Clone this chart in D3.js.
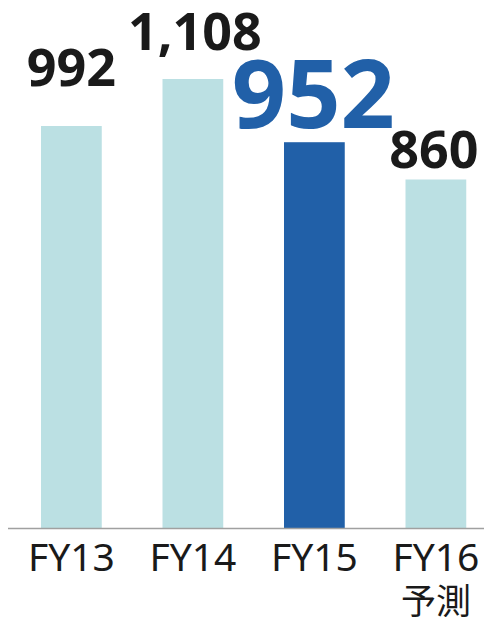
<!DOCTYPE html>
<html>
<head>
<meta charset="utf-8">
<script src="https://cdn.jsdelivr.net/npm/d3@7"></script>
<style>
  html, body { margin: 0; padding: 0; background: #fff; }
  svg { display: block; }
</style>
</head>
<body>
<svg width="484" height="617"></svg>
<script>
(function() {
    'use strict';

// data
var categories = ["FY13", "FY14", "FY15", "FY16"];
var subLabels  = ["", "", "", "予測"];
var values     = [992, 1108, 952, 860];
var valueText  = ["992", "1,108", "952", "860"];
var highlight  = [false, false, true, false];

// label placement above the bar top (px)
var labelLift  = [40, 29, 14, 11];
var labelShift = [0, 2, -1, -2];

var svg = d3.select("svg");
var W = 484, baseY = 528;

var x = d3.scaleBand()
    .domain(categories)
    .range([-19.75, 527])
    .paddingInner(0.5)
    .paddingOuter(0.5);

var y = d3.scaleLinear()
    .domain([0, 1108])
    .range([baseY, baseY - 449]);

var light = "#bbe0e3", dark = "#2160a8";

// bars
svg.selectAll("rect.bar")
   .data(values)
   .enter().append("rect")
   .attr("class", "bar")
   .attr("x", function(d, i) { return x(categories[i]); })
   .attr("y", function(d) { return y(d); })
   .attr("width", x.bandwidth())
   .attr("height", function(d) { return baseY - y(d); })
   .attr("fill", function(d, i) { return highlight[i] ? dark : light; });

// baseline
svg.append("line")
   .attr("x1", 8).attr("x2", W)
   .attr("y1", baseY + 0.5).attr("y2", baseY + 0.5)
   .attr("stroke", "#a0a0a0")
   .attr("stroke-width", 1.6);

// value labels
svg.selectAll("text.val")
   .data(values)
   .enter().append("text")
   .attr("class", "val")
   .attr("x", function(d, i) { return x(categories[i]) + x.bandwidth() / 2 + labelShift[i]; })
   .attr("y", function(d, i) { return y(d) - labelLift[i]; })
   .attr("text-anchor", "middle")
   .attr("font-family", "'Noto Sans', 'Open Sans', sans-serif")
   .attr("font-weight", "bold")
   .attr("font-size", function(d, i) { return highlight[i] ? 95 : 52; })
   .attr("fill", function(d, i) { return highlight[i] ? dark : "#1a1a1a"; })
   .text(function(d, i) { return valueText[i]; });

// category labels
var axis = svg.selectAll("g.tick")
   .data(categories)
   .enter().append("g")
   .attr("class", "tick")
   .attr("transform", function(d) { return "translate(" + (x(d) + x.bandwidth() / 2) + ",0)"; });

axis.append("text")
   .attr("y", 571)
   .attr("text-anchor", "middle")
   .attr("font-family", "'Noto Sans', sans-serif")
   .attr("font-size", 39)
   .attr("fill", "#1a1a1a")
   .text(function(d) { return d; });

axis.append("text")
   .attr("y", 614)
   .attr("text-anchor", "middle")
   .attr("font-family", "'Noto Sans CJK JP', sans-serif")
   .attr("font-size", 35)
   .attr("fill", "#1a1a1a")
   .text(function(d, i) { return subLabels[i]; });

})();
</script>
</body>
</html>
